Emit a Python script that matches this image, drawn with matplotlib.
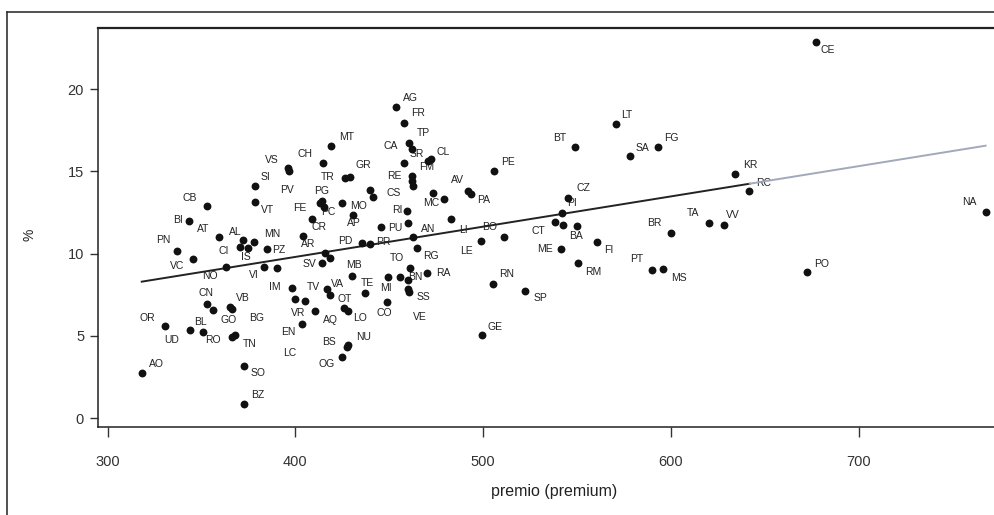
import numpy as np
import matplotlib.pyplot as plt
from matplotlib.lines import Line2D

# province codes ("" = label not readable in the source) with premium and %
codes = ["AO", "OR", "UD", "RO", "CN", "BL", "VB", "BG", "GO", "TN", "SO", "BZ",
         "BI", "CB", "AT", "PN", "VC", "NO", "AL", "CI", "IS", "MN", "PZ", "VI", "",
         "SV", "IM", "TV", "VA", "VR", "LC", "AQ", "EN", "NU", "BS", "OG", "OT", "LO",
         "CO", "MI", "TO", "BN", "", "RA", "SS", "VE", "TE", "MB", "PD", "PR", "", "",
         "AR", "CR", "FE", "PG", "PC", "VS", "PV", "SI", "VT", "CH", "MT", "GR", "TR",
         "CA", "TP", "AG", "FR", "SR", "CL", "FM", "RE", "CS", "", "", "", "MO", "AP",
         "RI", "AV", "PA", "MC", "", "PU", "", "AN", "LI", "LE", "RG", "BO", "PE",
         "GE", "RN", "SP", "BT", "LT", "SA", "FG", "CZ", "PI", "CT", "", "BA", "ME",
         "FI", "RM", "BR", "TA", "VV", "PT", "MS", "KR", "RC", "CE", "NA", "PO"]

premium = [318.2, 330.6, 343.9, 351.0, 353.1, 356.3, 365.2, 366.3, 366.1, 367.6, 372.7, 372.7,
           343.6, 352.8, 359.5, 336.8, 345.4, 363.1, 372.2, 370.6, 374.8, 378.0, 384.8, 383.5, 390.3,
           414.1, 398.1, 416.7, 418.5, 399.8, 405.2, 410.5, 403.4, 428.1, 427.3, 425.0, 425.9, 427.8,
           448.7, 449.5, 461.1, 460.2, 455.8, 470.1, 460.2, 460.5, 437.1, 430.0, 435.4, 439.8, 415.8, 418.5,
           404.3, 408.7, 413.2, 414.2, 415.4, 396.0, 396.6, 378.5, 378.5, 414.9, 418.9, 429.1, 426.5,
           460.7, 462.1, 453.6, 457.9, 457.9, 472.3, 470.9, 462.0, 462.4, 462.0, 439.8, 441.2, 424.7, 430.9,
           459.6, 492.0, 493.3, 473.5, 479.2, 445.5, 460.2, 462.8, 482.8, 498.7, 464.8, 511.1, 505.8,
           499.3, 505.1, 522.3, 548.9, 570.8, 578.2, 593.3, 545.4, 541.9, 538.3, 542.7, 550.2, 541.5,
           560.8, 550.7, 599.9, 620.5, 628.3, 589.8, 595.6, 634.1, 641.8, 677.3, 767.6, 672.6]

percent = [2.77, 5.61, 5.36, 5.26, 6.94, 6.58, 6.74, 6.64, 4.92, 5.06, 3.18, 0.85,
           11.97, 12.92, 11.04, 10.16, 9.65, 9.21, 10.83, 10.41, 10.35, 10.71, 10.27, 9.19, 9.13,
           9.42, 7.90, 7.86, 7.49, 7.23, 7.13, 6.52, 5.73, 4.45, 4.33, 3.74, 6.67, 6.52,
           7.08, 8.57, 9.11, 8.40, 8.57, 8.83, 7.84, 7.70, 7.59, 8.63, 10.63, 10.59, 10.02, 9.72,
           11.07, 12.08, 13.06, 13.23, 12.82, 15.19, 15.05, 14.13, 13.16, 15.53, 16.54, 14.68, 14.58,
           16.71, 16.36, 18.93, 17.92, 15.53, 15.75, 15.60, 14.72, 14.11, 14.42, 13.87, 13.44, 13.06, 12.35,
           12.61, 13.78, 13.63, 13.67, 13.30, 11.60, 11.88, 11.03, 12.09, 10.80, 10.35, 11.03, 15.02,
           5.06, 8.16, 7.72, 16.46, 17.88, 15.95, 16.46, 13.37, 12.45, 11.94, 11.74, 11.68, 10.27,
           10.69, 9.45, 11.24, 11.85, 11.74, 9.01, 9.07, 14.84, 13.81, 22.88, 12.55, 8.91]

x_ticks = [300, 400, 500, 600, 700]
y_ticks = [0, 5, 10, 15, 20]

# where each label sits relative to its dot (pixels)
label_offsets = {
    "AO": (15, 9), "OR": (-18, 8), "UD": (-18, -10), "RO": (10, -8), "CN": (-1, 11),
    "BL": (-13, -12), "VB": (13, 9), "BG": (25, -9), "GO": (-3, 17), "TN": (15, -9),
    "SO": (14, -7), "BZ": (14, 9), "BI": (-11, 1), "CB": (-17, 8), "AT": (-16, 8),
    "PN": (-13, 11), "VC": (-16, -7), "NO": (-16, -9), "AL": (-8, 8), "CI": (-16, -4),
    "IS": (-2, -9), "MN": (18, 8), "PZ": (12, -1), "VI": (-11, -8), "SV": (-12, -1),
    "IM": (-17, 1), "TV": (-13, 2), "VA": (7, 11), "VR": (3, -14), "LC": (-15, -52),
    "AQ": (15, -9), "EN": (-13, -8), "NU": (15, 8), "BS": (-18, 5), "OG": (-16, -7),
    "OT": (1, 9), "LO": (13, -7), "CO": (-2, -11), "MI": (-2, -11), "TO": (-13, 10),
    "BN": (7, 3), "RA": (16, 0), "SS": (15, -8), "VE": (11, -25), "TE": (2, 10),
    "MB": (2, 11), "PD": (-17, 2), "PR": (13, 2), "AR": (5, -8), "CR": (7, -8),
    "FE": (-20, -5), "PG": (0, 10), "PC": (4, -5), "VS": (-16, 8), "PV": (-2, -19),
    "SI": (10, 9), "VT": (13, -8), "CH": (-18, 9), "MT": (16, 9), "GR": (13, 12),
    "TR": (-17, 1), "CA": (-19, -3), "TP": (11, 16), "AG": (14, 9), "FR": (14, 10),
    "SR": (13, 9), "CL": (12, 7), "FM": (-2, -6), "RE": (-17, 0), "CS": (-19, -7),
    "MO": (17, -3), "AP": (0, -8), "RI": (-10, 1), "AV": (-11, 11), "PA": (13, -6),
    "MC": (-2, -10), "PU": (14, -1), "AN": (15, 8), "LI": (13, -11), "LE": (-14, -10),
    "RG": (14, -8), "BO": (-14, 10), "PE": (14, 9), "GE": (13, 8), "RN": (14, 10),
    "SP": (15, -7), "BT": (-15, 9), "LT": (11, 9), "SA": (13, 8), "FG": (13, 9),
    "CZ": (15, 10), "PI": (10, 10), "CT": (-17, -9), "BA": (-1, -10), "ME": (-16, 0),
    "FI": (11, -8), "RM": (15, -9), "BR": (-16, 10), "TA": (-16, 10), "VV": (9, 10),
    "PT": (-15, 11), "MS": (16, -9), "KR": (15, 9), "RC": (14, 8), "CE": (12, -8),
    "NA": (-16, 10), "PO": (14, 8),
}

plt.rcParams['font.family'] = ['Liberation Sans', 'DejaVu Sans']

fig = plt.figure(figsize=(9.94, 5.15), dpi=100)
ax = fig.add_axes([98 / 994, 88 / 515, 912 / 994, 399 / 515])

ax.scatter(premium, percent, s=32, color='#111111', linewidths=0, zorder=3)

for code, x, y in zip(codes, premium, percent):
    if code == "" or code not in label_offsets:
        continue
    dx, dy = label_offsets[code]
    ax.annotate(code, (x, y), xytext=(dx, dy), textcoords='offset pixels',
                ha='center', va='center', fontsize=7.5, color='#222222', zorder=2)

# least squares line over the data range
slope, icpt = np.polyfit(premium, percent, 1)
xa = np.array([min(premium), 642])
xb = np.array([642, max(premium)])
ax.plot(xa, icpt + slope * xa, color='#222222', lw=1.4, zorder=2.5)
ax.plot(xb, icpt + slope * xb, color='#a3a8bb', lw=1.4, zorder=2.5)

ax.set_xlim(294.9, 780.6)
ax.set_ylim(-0.53, 23.71)
ax.set_xticks(x_ticks)
ax.set_yticks(y_ticks)
ax.tick_params(axis='x', length=7, width=1, pad=13, labelsize=10.5, colors='#333333')
ax.tick_params(axis='y', length=5.5, width=1, pad=4.5, labelsize=10.5, colors='#333333')
for s in ax.spines.values():
    s.set_linewidth(1.1)
    s.set_color('#222222')
ax.spines['top'].set_linewidth(1.6)

ax.set_xlabel('premio (premium)', fontsize=11.5, color='#222222', labelpad=11)
fig.text(30 / 994, 1 - 235 / 515, '%', rotation=90, fontsize=10, color='#222222',
         ha='center', va='center')

# outer frame of the scanned figure
fig.add_artist(Line2D([7 / 994, 7 / 994], [0, 1 - 12 / 515], transform=fig.transFigure,
                      color='#333333', lw=1.2))
fig.add_artist(Line2D([7 / 994, 1], [1 - 12 / 515, 1 - 12 / 515], transform=fig.transFigure,
                      color='#333333', lw=1.2))

fig.savefig('out.png', dpi=100)
